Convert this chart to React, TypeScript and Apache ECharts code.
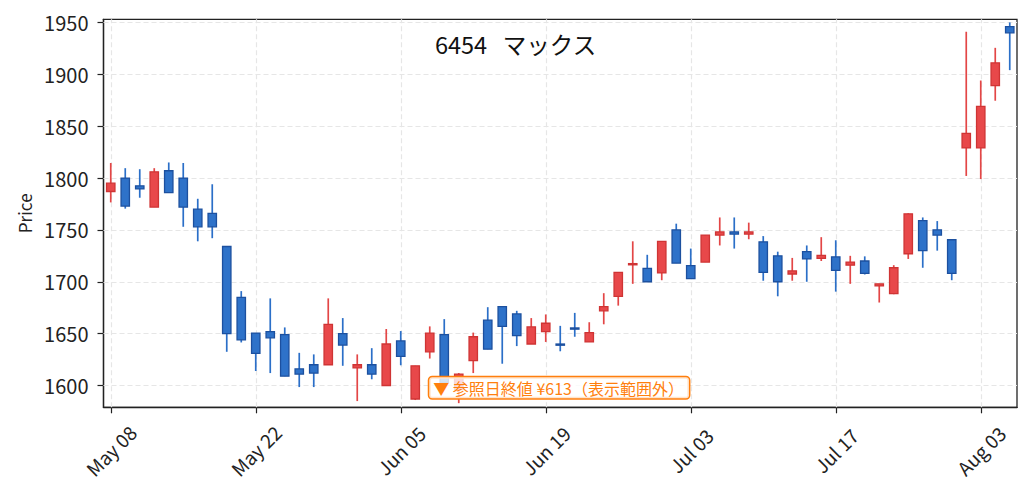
import React, { useEffect, useRef } from "react";
import * as echarts from "echarts";

const dates = [
  "May 08", "May 11", "May 12", "May 13", "May 14", "May 15", "May 18", "May 19", "May 20", "May 21",
  "May 22", "May 25", "May 26", "May 27", "May 28", "May 29", "Jun 01", "Jun 02", "Jun 03", "Jun 04",
  "Jun 05", "Jun 08", "Jun 09", "Jun 10", "Jun 11", "Jun 12", "Jun 15", "Jun 16", "Jun 17", "Jun 18",
  "Jun 19", "Jun 22", "Jun 23", "Jun 24", "Jun 25", "Jun 26", "Jun 29", "Jun 30", "Jul 01", "Jul 02",
  "Jul 03", "Jul 06", "Jul 07", "Jul 08", "Jul 09", "Jul 10", "Jul 13", "Jul 14", "Jul 15", "Jul 16",
  "Jul 17", "Jul 21", "Jul 22", "Jul 23", "Jul 24", "Jul 27", "Jul 28", "Jul 29", "Jul 30", "Jul 31",
  "Aug 03", "Aug 04", "Aug 05",
];

const openP = [
  1787, 1800, 1792.5, 1772, 1807, 1800, 1770, 1766, 1734, 1685,
  1650.5, 1652, 1649, 1616, 1620, 1620, 1650, 1617, 1620, 1600,
  1643, 1587, 1632.5, 1649, 1596, 1624, 1663, 1676, 1669, 1640,
  1652, 1640, 1655.5, 1642, 1672, 1686, 1716.5, 1713, 1708.5, 1750,
  1715.5, 1719, 1745, 1748, 1746, 1738.5, 1725, 1707.5, 1729, 1722.5,
  1724, 1716, 1720, 1696, 1688.5, 1727, 1759, 1750, 1740.5, 1829,
  1829, 1889, 1946,
];
const closeP = [
  1795, 1773, 1789.5, 1806, 1786, 1772, 1753, 1753, 1650, 1644,
  1631, 1646, 1609, 1611, 1612, 1659, 1639, 1620, 1611, 1640,
  1628, 1619, 1650.5, 1603, 1611, 1647, 1635, 1657, 1648, 1656.5,
  1660, 1639.5, 1655, 1651, 1676, 1709, 1717.5, 1700, 1739, 1718,
  1703, 1745, 1748, 1746, 1748, 1709, 1700, 1710.5, 1722, 1725.5,
  1711, 1719, 1708, 1698, 1713.5, 1765.5, 1730, 1745, 1708, 1843,
  1869, 1911, 1940,
];
const lowP = [
  1776.5, 1770.5, 1781, 1772, 1786, 1753, 1739, 1742, 1632.5, 1641.5,
  1614, 1612, 1609, 1598.5, 1598.5, 1620, 1619, 1585, 1606, 1600,
  1619.5, 1586, 1626, 1599, 1583, 1612, 1635, 1621, 1638, 1640,
  1642, 1633, 1647, 1642, 1659, 1677, 1698, 1700, 1701.5, 1718,
  1703, 1719, 1735, 1732, 1741, 1701, 1686, 1701, 1700, 1720,
  1690.5, 1698, 1707, 1680, 1688, 1722, 1713.5, 1730, 1701.5, 1802,
  1799, 1874.5, 1904,
];
const highP = [
  1814.5, 1809.5, 1808.5, 1809.5, 1815, 1814.5, 1780, 1794, 1734, 1691,
  1650.5, 1684, 1656, 1631.5, 1630, 1684, 1665, 1630, 1636, 1654.5,
  1652.5, 1619, 1657, 1664, 1612, 1651, 1675.5, 1676, 1672, 1665,
  1668.5, 1657.5, 1670, 1661, 1689, 1709, 1739, 1726, 1739, 1756,
  1732, 1745, 1762, 1762, 1757, 1744, 1729, 1723, 1735, 1743,
  1740, 1725, 1724.5, 1698, 1716, 1766, 1762, 1758.5, 1740.5, 1941,
  1894, 1925.5, 1950,
];

const yTicks = [1600, 1650, 1700, 1750, 1800, 1850, 1900, 1950];
const xTickIndexes = [0, 10, 20, 30, 40, 50, 60];
const TITLE = "6454   マックス";
const NOTE = "▼ 参照日終値 ¥613（表示範囲外）";
const NOTE_INDEX = 22;

const FONT = '"Noto Sans CJK JP", "Noto Sans", sans-serif';
const RED_FILL = "#e8484a";
const RED_EDGE = "#cf3434";
const RED_WICK = "#e34646";
const BLUE_FILL = "#2e72c9";
const BLUE_EDGE = "#1c509f";
const BLUE_WICK = "#2b6fc8";
const ORANGE = "#ff7f0e";

const renderItem = (params: any, api: any) => {
  const i = api.value(0);
  const o = api.value(1);
  const c = api.value(2);
  const l = api.value(3);
  const h = api.value(4);
  const pO = api.coord([i, o]);
  const pC = api.coord([i, c]);
  const pL = api.coord([i, l]);
  const pH = api.coord([i, h]);
  const band = api.size([1, 0])[0];
  const bw = band * 0.58;
  const x = pO[0];
  const up = c > o;
  const top = Math.min(pO[1], pC[1]);
  const ht = Math.max(Math.abs(pO[1] - pC[1]), 1.2);
  return {
    type: "group",
    children: [
      {
        type: "line",
        shape: { x1: x, y1: pH[1], x2: x, y2: pL[1] },
        style: { stroke: up ? RED_WICK : BLUE_WICK, lineWidth: 1.7 },
      },
      {
        type: "rect",
        shape: { x: x - bw / 2, y: top, width: bw, height: ht },
        style: {
          fill: up ? RED_FILL : BLUE_FILL,
          stroke: up ? RED_EDGE : BLUE_EDGE,
          lineWidth: 1.3,
        },
      },
    ],
  };
};

export default function App() {
  const ref = useRef<HTMLDivElement>(null);
  useEffect(() => {
    if (!ref.current) return;
    const chart = echarts.init(ref.current, undefined, { renderer: "svg" });
    const data = dates.map((d, i) => [i, openP[i], closeP[i], lowP[i], highP[i]]);
    const gridLineStyle = { color: "#e6e6e6", width: 1.2, type: [5, 3] as any };
    chart.setOption({
      animation: false,
      backgroundColor: "#ffffff",
      title: {
        text: TITLE,
        left: "center",
        top: 27,
        textStyle: { fontFamily: FONT, fontSize: 23.5, fontWeight: "normal", color: "#111" },
      },
      grid: {
        left: 103.5,
        right: 14,
        top: 19.3,
        bottom: 89.7,
        show: true,
        borderColor: "#222",
        borderWidth: 1.3,
        backgroundColor: "transparent",
      },
      xAxis: {
        type: "category",
        data: dates,
        boundaryGap: true,
        axisLine: { show: true, lineStyle: { color: "#222", width: 1.3 } },
        axisTick: {
          show: true,
          alignWithLabel: true,
          interval: (i: number) => i % 10 === 0,
          length: 6,
          lineStyle: { color: "#222", width: 1.2 },
        },
        axisLabel: {
          interval: (i: number) => i % 10 === 0,
          rotate: 45,
          align: "center",
          verticalAlign: "middle",
          margin: 43,
          fontFamily: FONT,
          fontSize: 19,
          color: "#222",
        },
        splitLine: { show: false },
      },
      yAxis: {
        type: "value",
        min: 1579,
        max: 1953,
        splitNumber: 8,
        name: "Price",
        nameLocation: "middle",
        nameGap: 70,
        nameTextStyle: { fontFamily: FONT, fontSize: 17, color: "#222" },
        axisLine: { show: true, lineStyle: { color: "#222", width: 1.3 } },
        axisTick: { show: true, length: 6, customValues: yTicks, lineStyle: { color: "#222", width: 1.2 } },
        axisLabel: {
          customValues: yTicks,
          formatter: (v: number) => String(v),
          margin: 15,
          fontFamily: FONT,
          fontSize: 20,
          color: "#222",
        },
        splitLine: { show: false },
      },
      series: [
        {
          type: "custom",
          renderItem,
          data,
          encode: { x: 0, y: [1, 2, 3, 4] },
          z: 3,
          markLine: {
            silent: true,
            z: 1,
            symbol: ["none", "none"],
            label: { show: false },
            lineStyle: gridLineStyle,
            emphasis: { disabled: true },
            data: [
              ...yTicks.map((v) => ({ yAxis: v })),
              ...xTickIndexes.map((i) => ({ xAxis: dates[i] })),
            ],
          },
        },
      ],
    });
    const p = chart.convertToPixel({ xAxisIndex: 0, yAxisIndex: 0 }, [NOTE_INDEX, 1600]) as number[];
    chart.setOption({
      graphic: [
        {
          type: "text",
          x: p[0] - 0.5,
          y: 377.3,
          z: 100,
          style: {
            text: NOTE,
            fill: ORANGE,
            font: '16px "Noto Sans CJK JP"',
            align: "left",
            verticalAlign: "top",
            backgroundColor: "rgba(255,255,255,0.8)",
            borderColor: ORANGE,
            borderWidth: 1.5,
            borderRadius: 3,
            padding: [3, 5, 2, 4],
          },
        },
      ],
    });
    return () => chart.dispose();
  }, []);
  return (
    <div
      ref={ref}
      style={{ position: "fixed", left: 0, top: 0, width: 1031, height: 497, background: "#fff" }}
    />
  );
}
